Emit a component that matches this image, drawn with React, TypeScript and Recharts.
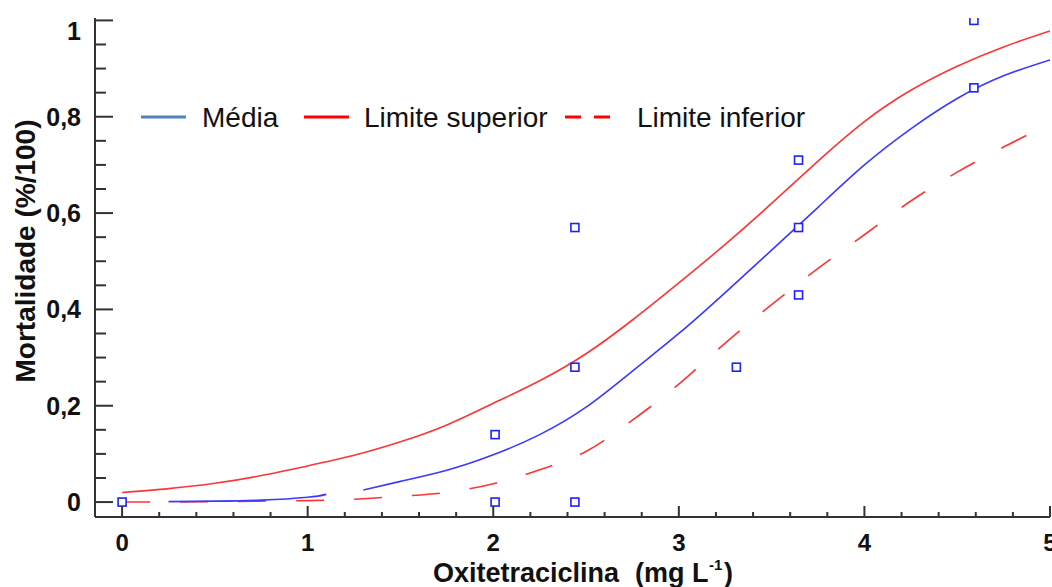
import { ComposedChart, Line, Scatter, XAxis, YAxis, Legend } from "recharts";

// curves from the fitted model (limits share the same x grid)
const curveX = [0, 0.25, 0.5, 0.75, 1, 1.25, 1.5, 1.75, 2, 2.25, 2.5, 2.75, 3, 3.25, 3.5, 3.75, 4, 4.25, 4.5, 4.75, 5];
const upperY = [0.02, 0.028, 0.039, 0.055, 0.075, 0.097, 0.125, 0.16, 0.205, 0.252, 0.308, 0.378, 0.455, 0.535, 0.62, 0.708, 0.79, 0.855, 0.905, 0.945, 0.978];
const lowerY = [0, 0, 0.001, 0.002, 0.003, 0.006, 0.012, 0.02, 0.038, 0.067, 0.105, 0.17, 0.245, 0.33, 0.41, 0.485, 0.555, 0.625, 0.685, 0.737, 0.785];

// the mean line starts a bit later and has a small break near 1.2
const mediaX = [0.25, 0.5, 0.75, 1, 1.1, 1.2, 1.3, 1.5, 1.75, 2, 2.25, 2.5, 2.75, 3, 3.25, 3.5, 3.75, 4, 4.25, 4.5, 4.75, 5];
const mediaY = [0.001, 0.002, 0.004, 0.01, 0.016, null, 0.025, 0.043, 0.066, 0.098, 0.14, 0.197, 0.272, 0.35, 0.435, 0.523, 0.612, 0.7, 0.775, 0.838, 0.885, 0.918];

// observed mortality
const obsX = [0, 2.01, 2.01, 2.44, 2.44, 2.44, 3.31, 3.645, 3.645, 3.645, 4.59, 4.59];
const obsY = [0, 0.14, 0, 0.57, 0.28, 0, 0.28, 0.71, 0.57, 0.43, 1.0, 0.86];

const xTicks = Array.from({ length: 26 }, (_, i) => Math.round(i * 2) / 10);
const yTicks = Array.from({ length: 21 }, (_, i) => Math.round(i * 5) / 100);

const FONT = "'Liberation Sans', Arial, sans-serif";
const AXIS_X = 95;
const AXIS_Y = 517;

const upperData = curveX.map((x, i) => ({ x, y: upperY[i] }));
const lowerData = curveX.map((x, i) => ({ x, y: lowerY[i] }));
const mediaData = mediaX.map((x, i) => ({ x, y: mediaY[i] }));
const obsData = obsX.map((x, i) => ({ x, y: obsY[i] }));

const isMajor = (v: number, step: number) => Math.abs(v / step - Math.round(v / step)) < 1e-6;

function YTick(props: any) {
  const v = props.payload.value;
  const y = props.y;
  const major = isMajor(v, 0.2);
  return (
    <g>
      <line x1={AXIS_X} x2={AXIS_X + (major ? 18 : 11)} y1={y} y2={y} stroke="#333" strokeWidth={2} />
      {major && (
        <text x={81} y={Math.max(y, 31) + 9} textAnchor="end" fontFamily={FONT} fontWeight="bold" fontSize={25} fill="#111">
          {String(Math.round(v * 10) / 10).replace(".", ",")}
        </text>
      )}
    </g>
  );
}

function XTick(props: any) {
  const v = props.payload.value;
  const x = props.x;
  const major = isMajor(v, 1);
  return (
    <g>
      <line x1={x} x2={x} y1={AXIS_Y} y2={AXIS_Y - (major ? 11 : 5)} stroke="#333" strokeWidth={2} />
      {major && (
        <text x={x} y={551} textAnchor="middle" fontFamily={FONT} fontWeight="bold" fontSize={24} fill="#111">
          {v}
        </text>
      )}
    </g>
  );
}

function XTitle() {
  return (
    <g fontFamily={FONT} fontWeight="bold" fill="#111">
      <text x={433} y={582} fontSize={27}>Oxitetraciclina</text>
      <text x={635} y={582} fontSize={27}>(mg L</text>
      <text x={709} y={570} fontSize={15}>-1</text>
      <text x={724} y={582} fontSize={27}>)</text>
    </g>
  );
}

function YTitle() {
  return (
    <text x={35} y={251} transform="rotate(-90 35 251)" textAnchor="middle" fontFamily={FONT} fontWeight="bold" fontSize={28} fill="#111">
      Mortalidade (%/100)
    </text>
  );
}

function LegendBox() {
  return (
    <svg width={720} height={44} style={{ display: "block" }}>
      <g fontFamily={FONT} fontSize={28} fill="#111">
        <line x1={11} x2={56} y1={20} y2={20} stroke="#4f81bd" strokeWidth={3} />
        <text x={72} y={30}>Média</text>
        <line x1={174} x2={219} y1={20} y2={20} stroke="#ff0000" strokeWidth={3} />
        <text x={234} y={30}>Limite superior</text>
        <line x1={435} x2={451} y1={20} y2={20} stroke="#ff0000" strokeWidth={3} />
        <line x1={464} x2={480} y1={20} y2={20} stroke="#ff0000" strokeWidth={3} />
        <text x={507} y={30}>Limite inferior</text>
      </g>
    </svg>
  );
}

function Square(props: any) {
  const { cx, cy } = props;
  return <rect x={cx - 4} y={cy - 4} width={8} height={8} fill="#fff" stroke="#2020ff" strokeWidth={1.6} />;
}

export default function App() {
  return (
    <div style={{ width: 1052, height: 587, background: "#fff" }}>
      <style>{"body{margin:0}"}</style>
      <ComposedChart width={1052} height={587} margin={{ top: 18, right: 2, bottom: 0, left: 0 }}>
        <XAxis
          type="number"
          dataKey="x"
          domain={[-0.146, 5]}
          ticks={xTicks}
          allowDataOverflow
          height={70}
          axisLine={{ stroke: "#333", strokeWidth: 2 }}
          tickLine={false}
          tick={<XTick />}
          interval={0}
          label={<XTitle />}
        />
        <YAxis
          type="number"
          dataKey="y"
          domain={[-0.031, 1.005]}
          ticks={yTicks}
          allowDataOverflow
          width={95}
          axisLine={{ stroke: "#333", strokeWidth: 2 }}
          tickLine={false}
          tick={<YTick />}
          interval={0}
          label={<YTitle />}
        />
        <Legend
          layout="horizontal"
          verticalAlign="middle"
          content={() => <LegendBox />}
          wrapperStyle={{ left: 130, top: 97, width: 720 }}
        />
        <Line data={upperData} dataKey="y" type="natural" stroke="#ff3535" strokeWidth={1.6} dot={false} isAnimationActive={false} />
        <Line data={lowerData} dataKey="y" type="monotone" stroke="#ff3535" strokeWidth={1.6} strokeDasharray="28 30" dot={false} isAnimationActive={false} />
        <Line data={mediaData} dataKey="y" type="natural" stroke="#3a3aff" strokeWidth={1.6} dot={false} connectNulls={false} isAnimationActive={false} />
        <Scatter data={obsData} dataKey="y" shape={<Square />} isAnimationActive={false} />
      </ComposedChart>
    </div>
  );
}
